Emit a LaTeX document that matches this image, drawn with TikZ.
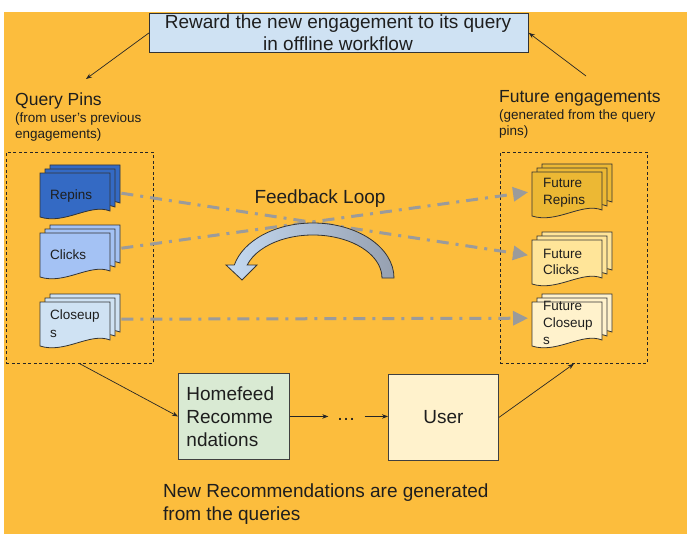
\documentclass[tikz,border=0pt]{standalone}
\usepackage{fontspec}
\setmainfont{Liberation Sans}
\usetikzlibrary{arrows.meta,calc}
\definecolor{bgorange}{RGB}{252,189,61}
\definecolor{topblue}{RGB}{207,226,243}
\definecolor{repinsc}{RGB}{52,106,196}
\definecolor{clicksc}{RGB}{164,194,244}
\definecolor{closeupsc}{RGB}{207,226,243}
\definecolor{frepinsc}{RGB}{236,184,52}
\definecolor{fclicksc}{RGB}{255,229,153}
\definecolor{fcloseupsc}{RGB}{255,242,204}
\definecolor{homec}{RGB}{217,234,211}
\definecolor{userc}{RGB}{255,242,204}
\definecolor{flowgray}{RGB}{155,155,155}
\definecolor{loopL}{RGB}{196,218,242}
\definecolor{loopR}{RGB}{150,160,176}
\definecolor{txt}{RGB}{30,30,30}
\tikzset{
  docpage/.style={draw=black!80,line width=0.8pt},
  docbox/.style={minimum width=70pt,minimum height=44pt,inner sep=0pt},
  doclabel/.style={inner sep=0pt,align=left,anchor=west,text=txt,font=\fontsize{13.5}{16.5}\selectfont},
  lbl/.style={inner sep=0pt,align=left,anchor=west,text=txt},
  thinarrow/.style={-{Stealth[length=6pt,width=4.5pt]},line width=0.7pt,draw=black!85},
  flowline/.style={draw=flowgray,line width=3pt,dash pattern=on 12pt off 7pt on 3pt off 7pt,-{Triangle[length=15pt,width=14pt]}},
  dashbox/.style={draw=black!85,line width=0.8pt,dash pattern=on 3pt off 2.5pt,inner sep=0pt,anchor=north west},
  plainbox/.style={draw=black!75,line width=0.9pt,inner sep=0pt,anchor=north west,text=txt,font=\fontsize{19}{23}\selectfont}
}
\newcommand{\docstack}[4]{%
  \foreach \o in {10,5,0}{%
    \begin{scope}[shift={(#1+\o,#2-0.8*\o)}]
      \filldraw[docpage,fill=#3] (0,0) -- (70,0) -- (70,38) .. controls (50,30) and (25,52) .. (0,44) -- cycle;
    \end{scope}}%
  \node[docbox,anchor=north west] (#4) at (#1,#2) {};}
\begin{document}
\begin{tikzpicture}[x=1pt,y=-1pt]
\useasboundingbox (0,0) rectangle (687,548);
\fill[white] (0,0) rectangle (687,548);
\fill[bgorange] (4,12) rectangle (687,534);

% top box
\node[draw=black!80,line width=0.8pt,fill=topblue,minimum width=379pt,minimum height=39pt,inner sep=0pt,anchor=north west] (reward) at (149,13) {};
\node[inner sep=0pt,align=center,text=txt,font=\fontsize{19}{22}\selectfont] (rewardtxt) at (338,33) {Reward the new engagement to its query\\in offline workflow};

% headings
\node[lbl,font=\fontsize{17.5}{20}\selectfont] (qp) at (15,101) {Query Pins};
\node[lbl,font=\fontsize{13.5}{15.5}\selectfont] (qpsub) at (15,127) {(from user's previous\\engagements)};
\node[lbl,font=\fontsize{17.5}{20}\selectfont] (fe) at (499,98) {Future engagements};
\node[lbl,font=\fontsize{13.5}{15.5}\selectfont] (fesub) at (499,124) {(generated from the query\\pins)};

\coordinate (qptip) at (86,79);
\coordinate (festart) at (586,76);
\draw[thinarrow] (reward.west) -- (qptip);
\draw[thinarrow] (festart) -- (reward.east);

% dashed boxes
\node[dashbox,minimum width=147pt,minimum height=211pt] (leftbox) at (6,152) {};
\node[dashbox,minimum width=147pt,minimum height=211pt] (rightbox) at (500,152) {};

% document stacks
\docstack{40}{173}{repinsc}{repins}
\docstack{40}{233}{clicksc}{clicks}
\docstack{40}{302}{closeupsc}{closeups}
\docstack{532}{172}{frepinsc}{frepins}
\docstack{532}{240}{fclicksc}{fclicks}
\docstack{532}{302}{fcloseupsc}{fcloseups}

\node[doclabel] (repinsT) at (50,196) {Repins};
\node[doclabel] (clicksT) at (50,255) {Clicks};
\node[doclabel,font=\fontsize{13.5}{18}\selectfont] (closeupsT) at (50,324) {Closeup\\s};
\node[doclabel] (frepinsT) at (543,193) {Future\\Repins};
\node[doclabel] (fclicksT) at (543,262) {Future\\Clicks};
\node[doclabel,font=\fontsize{13.5}{17}\selectfont] (fcloseupsT) at (543,323) {Future\\Closeup\\s};

% flow lines
\draw[flowline] ([shift={(11,-2)}]repins.east) -- ([shift={(-4,-7)}]fclicks.west);
\draw[flowline] ([shift={(11,-7)}]clicks.east) -- ([shift={(-4,-2)}]frepins.west);
\draw[flowline] ([shift={(11,-5)}]closeups.east) -- ([shift={(-4,-6)}]fcloseups.west);

% feedback loop
\node[inner sep=0pt,text=txt,font=\fontsize{19}{22}\selectfont] (fbl) at (320,199) {Feedback Loop};
\path[draw=black!80,line width=0.8pt,left color=loopL,right color=loopR]
  (394,278) arc[start angle=0,end angle=166.3,x radius=81pt,y radius=55pt]
  -- (226,265) -- (242,280) -- (257,265) -- (247.2,265)
  arc[start angle=162.4,end angle=0,x radius=69pt,y radius=43pt] -- cycle;

% bottom flow
\node[plainbox,fill=homec,minimum width=111pt,minimum height=86pt,align=left,text width=95pt] (homefeed) at (178,373) {Homefeed\\Recomme\\ndations};
\node[plainbox,fill=userc,minimum width=110pt,minimum height=86pt] (user) at (388,374) {User};
\node[inner sep=0pt,text=txt,font=\fontsize{19}{23}\selectfont] (dots) at (346,419) {…};
\draw[thinarrow] (homefeed.east) -- ([xshift=-8pt]homefeed.east -| dots.west);
\draw[thinarrow] ([xshift=9pt]homefeed.east -| dots.east) -- (homefeed.east -| user.west);
\draw[thinarrow] (leftbox.south) -- (homefeed.west);
\draw[thinarrow] (user.east) -- (rightbox.south);

\node[lbl,font=\fontsize{19}{23}\selectfont] (newrec) at (163,504.5) {New Recommendations are generated\\from the queries};
\end{tikzpicture}
\end{document}
